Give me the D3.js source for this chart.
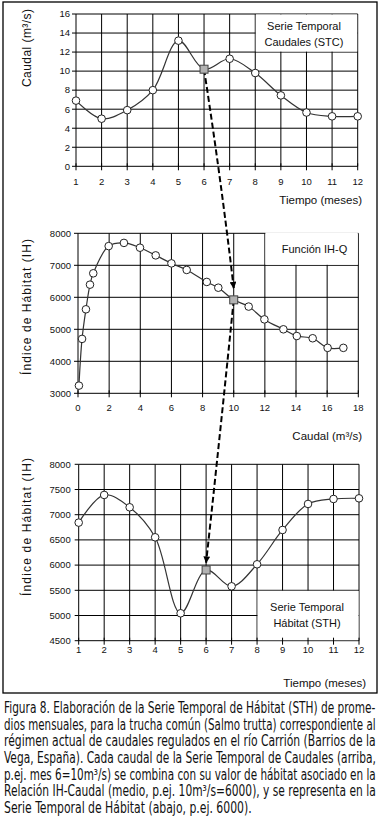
<!DOCTYPE html>
<html><head><meta charset="utf-8">
<script src="https://cdn.jsdelivr.net/npm/d3@7"></script>
<style>body{margin:0;background:#fff}svg{display:block}</style>
</head><body><svg id="c" width="380" height="819"></svg>
<script>
// ---- data ----
const months = [1,2,3,4,5,6,7,8,9,10,11,12];
const caudalSTC = [6.9, 5.0, 5.9, 8.0, 13.2, 10.2, 11.3, 9.8, 7.45, 5.65, 5.25, 5.25];
const ihqCaudal = [0.06, 0.26, 0.51, 0.77, 0.98, 1.97, 2.95, 3.98, 4.99, 6.0, 6.98, 8.27, 9.01, 10.0, 10.96, 11.97, 13.19, 14.05, 15.07, 16.03, 17.04];
const ihqIH = [3240, 4700, 5625, 6395, 6750, 7600, 7700, 7550, 7310, 7060, 6855, 6480, 6300, 5920, 5710, 5310, 5000, 4790, 4720, 4420, 4420];
const habitatSTH = [6843, 7392, 7147, 6552, 5044, 5903, 5579, 6016, 6697, 7213, 7312, 7325];
const highlightMonth = 6;
const highlightCaudal = 10;
const arrow1TipIH = 6290;
const arrow2TipIH = 6050;
const monthTicks = months;
const stcTicks = [0,2,4,6,8,10,12,14,16];
const caudalTicks = [0,2,4,6,8,10,12,14,16,18];
const ihTicks = [3000,4000,5000,6000,7000,8000];
const sthTicks = [4500,5000,5500,6000,6500,7000,7500,8000];
const captionLines = [
 "Figura 8. Elaboración de la Serie Temporal de Hábitat (STH) de prome-",
 "dios mensuales, para la trucha común (Salmo trutta) correspondiente al",
 "régimen actual de caudales regulados en el río Carrión (Barrios de la",
 "Vega, España). Cada caudal de la Serie Temporal de Caudales (arriba,",
 "p.ej. mes 6=10m³/s) se combina con su valor de hábitat asociado en la",
 "Relación IH-Caudal (medio, p.ej. 10m³/s=6000), y se representa en la",
 "Serie Temporal de Hábitat (abajo, p.ej. 6000)."
];

const svg = d3.select("#c");
const FONT = "'Liberation Sans', Arial, sans-serif";

svg.append("rect").attr("x",3).attr("y",2).attr("width",374).attr("height",691)
  .attr("fill","none").attr("stroke","#000").attr("stroke-width",1.3);

const defs = svg.append("defs");
defs.append("marker").attr("id","ah").attr("viewBox","0 0 10 10").attr("refX",9).attr("refY",5)
  .attr("markerWidth",3.8).attr("markerHeight",3.4).attr("markerUnits","strokeWidth").attr("orient","auto")
  .append("path").attr("d","M0,0L10,5L0,10Z").attr("fill","#000");

function panel(c){
  const g = svg.append("g");
  const [x0,x1] = c.x.range(), [y0,y1] = c.y.range();
  g.selectAll(".h").data(c.yTicks).join("line")
    .attr("x1",x0).attr("x2",x1).attr("y1",d=>c.y(d)).attr("y2",d=>c.y(d))
    .attr("stroke","#000").attr("stroke-width",1);
  g.selectAll(".v").data(c.xTicks).join("line")
    .attr("x1",d=>c.x(d)).attr("x2",d=>c.x(d)).attr("y1",y0).attr("y2",y1)
    .attr("stroke","#000").attr("stroke-width",1);
  const L = c.legend;
  const lx = c.x(L.x[0])+0.5, rx = c.x(L.x[1])-0.5;
  const ty = c.y(L.y[1]) + (L.coverTop ? -1 : 0.5), by = c.y(L.y[0]) - 0.5;
  g.append("rect").attr("x",lx).attr("y",ty).attr("width",rx-lx).attr("height",by-ty).attr("fill","#fff");
  g.selectAll(".yt").data(c.yTicks).join("line")
    .attr("x1",x0-4).attr("x2",x0).attr("y1",d=>c.y(d)).attr("y2",d=>c.y(d)).attr("stroke","#000");
  g.selectAll(".xt").data(c.xTicks).join("line")
    .attr("x1",d=>c.x(d)).attr("x2",d=>c.x(d)).attr("y1",y0-3).attr("y2",y0+4).attr("stroke","#000");
  g.selectAll(".yl").data(c.yTicks).join("text")
    .attr("x",x0-c.yLabelGap).attr("y",d=>c.y(d)).attr("dy","0.35em").attr("text-anchor","end")
    .attr("font-family",FONT).attr("font-size",9.5).attr("fill","#111").text(d=>d);
  g.selectAll(".xl").data(c.xTicks).join("text")
    .attr("x",d=>c.x(d)).attr("y",y0+c.xLabelOff).attr("text-anchor","middle")
    .attr("font-family",FONT).attr("font-size",9.5).attr("fill","#111").text(d=>d);
  L.lines.forEach((t,i)=>{
    g.append("text").attr("x",L.cx).attr("y",L.by[i]).attr("text-anchor","middle")
      .attr("font-family",FONT).attr("font-size",11).attr("fill","#111").text(t);
  });
  g.append("text").attr("x",c.xTitle.x).attr("y",c.xTitle.y).attr("text-anchor","end")
    .attr("font-family",FONT).attr("font-size",11.5).attr("fill","#111").text(c.xTitle.t);
  g.append("text").attr("transform",`translate(31,${c.yTitle.cy}) rotate(-90)`).attr("text-anchor","middle")
    .attr("font-family",FONT).attr("font-size",12).attr("fill","#111")
    .attr("textLength",c.yTitle.len).attr("lengthAdjust","spacing").text(c.yTitle.t);
  const pts = c.xs.map((d,i)=>[c.x(d), c.y(c.ys[i])]);
  g.append("path").attr("d", d3.line().curve(d3.curveCatmullRom.alpha(0.5))(pts))
    .attr("fill","none").attr("stroke","#333").attr("stroke-width",1.2);
  g.selectAll(".m").data(c.xs.map((d,i)=>i).filter(i=>i!==c.hi)).join("circle")
    .attr("cx",i=>pts[i][0]).attr("cy",i=>pts[i][1]).attr("r",3.8)
    .attr("fill","#fff").attr("stroke","#222").attr("stroke-width",1);
  return pts[c.hi];
}

const x1 = d3.scaleLinear().domain([1,12]).range([76,357.7]);
const y1 = d3.scaleLinear().domain([0,16]).range([166.3,14]);
const x2 = d3.scaleLinear().domain([0,18]).range([78,358.3]);
const y2 = d3.scaleLinear().domain([3000,8000]).range([393.3,233.3]);
const x3 = d3.scaleLinear().domain([1,12]).range([78.7,359]);
const y3 = d3.scaleLinear().domain([4500,8000]).range([640.7,464.3]);

const sq1 = panel({x:x1,y:y1,xTicks:monthTicks,yTicks:stcTicks,xs:months,ys:caudalSTC,hi:months.indexOf(highlightMonth),
  yLabelGap:6, xLabelOff:18.7,
  legend:{x:[8,12],y:[12,16],coverTop:false,cx:304,by:[30,46],lines:["Serie Temporal","Caudales (STC)"]},
  xTitle:{x:362,y:204,t:"Tiempo (meses)"}, yTitle:{cy:48,len:78,t:"Caudal (m³/s)"}});
const sq2 = panel({x:x2,y:y2,xTicks:caudalTicks,yTicks:ihTicks,xs:ihqCaudal,ys:ihqIH,hi:ihqCaudal.indexOf(highlightCaudal),
  yLabelGap:7, xLabelOff:17.4,
  legend:{x:[12,18],y:[7000,8000],coverTop:true,cx:314.5,by:[253],lines:["Función IH-Q"]},
  xTitle:{x:362,y:440,t:"Caudal (m³/s)"}, yTitle:{cy:307,len:136,t:"Índice de Hábitat (IH)"}});
const sq3 = panel({x:x3,y:y3,xTicks:monthTicks,yTicks:sthTicks,xs:months,ys:habitatSTH,hi:months.indexOf(highlightMonth),
  yLabelGap:8, xLabelOff:12,
  legend:{x:[8,12],y:[4500,5500],coverTop:false,cx:307,by:[611,627],lines:["Serie Temporal","Hábitat (STH)"]},
  xTitle:{x:366,y:687,t:"Tiempo (meses)"}, yTitle:{cy:527,len:138,t:"Índice de Hábitat (IH)"}});

function arrow(from, to, bend){
  const p = d3.path();
  p.moveTo(from[0], from[1]);
  const mx = (from[0]+to[0])/2 + bend, my = (from[1]+to[1])/2;
  p.quadraticCurveTo(mx, my, to[0], to[1]);
  svg.append("path").attr("d", p.toString()).attr("fill","none").attr("stroke","#000")
    .attr("stroke-width",2).attr("stroke-dasharray","6,3").attr("marker-end","url(#ah)");
}
arrow(sq1, [x2(highlightCaudal), y2(arrow1TipIH)], 2);
arrow(sq2, [x3(highlightMonth), y3(arrow2TipIH)], 0.5);

[sq1, sq2, sq3].forEach(p=>{
  svg.append("rect").attr("x",p[0]-4).attr("y",p[1]-4).attr("width",8).attr("height",8)
    .attr("fill","#b2b2b2").attr("stroke","#444").attr("stroke-width",1);
});

const capFont = "'Liberation Sans Narrow', 'Arial Narrow', 'DejaVu Sans Condensed', sans-serif";
captionLines.forEach((line,i)=>{
  const target = i===captionLines.length-1 ? 248 : 372;
  const t = svg.append("text").attr("x",0).attr("y",0)
    .attr("font-family",capFont).attr("font-size",16).attr("fill","#111").text(line);
  const w = t.node().getComputedTextLength();
  t.attr("transform",`translate(4,${713 + i*16.67}) scale(${target/w},1)`);
});
</script></body></html>
